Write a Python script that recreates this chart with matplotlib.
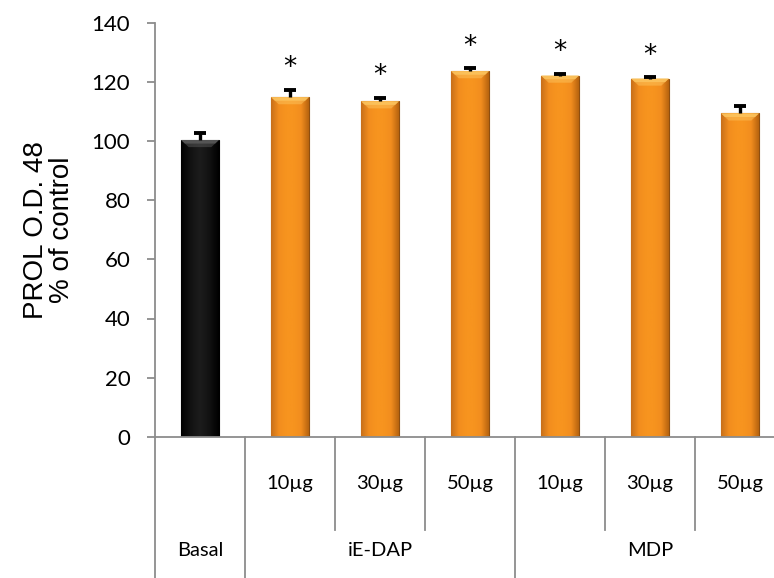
import numpy as np
import matplotlib
matplotlib.use('Agg')
import matplotlib.pyplot as plt
from matplotlib.colors import LinearSegmentedColormap
import matplotlib.transforms as mtransforms

# data
doses = ['', '10µg', '30µg', '50µg', '10µg', '30µg', '50µg']
groups = ['Basal', 'iE-DAP', 'MDP']
group_sizes = [1, 3, 3]
means = [100.4, 114.9, 113.5, 123.7, 122.2, 121.2, 109.4]
errs = [2.5, 2.5, 1.2, 1.0, 0.6, 0.4, 2.5]
signif = [False, True, True, True, True, True, False]

fig = plt.figure(figsize=(7.74, 5.78), dpi=100)
# axes runs a little past the right edge like the original crop
ax = fig.add_axes([155/774, (578-436.7)/578, 630/774, 413.7/578])

x = np.arange(len(means))
w = 0.42
orange = LinearSegmentedColormap.from_list('o', ['#C8701A', '#F28D1E', '#F7941F', '#F7941F', '#F28D1E', '#B8640F'])
blackmap = LinearSegmentedColormap.from_list('b', ['#000000', '#121212', '#1c1c1c', '#121212', '#000000'])
grad = np.linspace(0, 1, 64).reshape(1, -1)

bars = ax.bar(x, means, width=w, color=['#000000'] + ['#F7941F'] * 6,
              edgecolor=['#000000'] + ['#8E4E10'] * 6, linewidth=0.8, zorder=2)
for i, b in enumerate(bars):
    cm = blackmap if i == 0 else orange
    im = ax.imshow(grad, cmap=cm, aspect='auto', zorder=2.5,
                   extent=[b.get_x(), b.get_x() + b.get_width(), 0, b.get_height()])
    im.set_clip_path(b)
    # light bevel at the top of each bar
    top = b.get_height()
    bx0, bx1 = b.get_x(), b.get_x() + b.get_width()
    bev = '#FCC45E' if i else '#5a5a5a'
    for k, a in enumerate([0.85, 0.5]):
        d = 1.2 * (k + 1)
        ax.fill([bx0, bx1, bx1 - w * 0.2 * (k + 1) / 2, bx0 + w * 0.2 * (k + 1) / 2],
                [top, top, top - d, top - d], color=bev, lw=0, zorder=2.6, alpha=a)

tops = np.array(means) + np.array(errs)
ax.vlines(x, means, tops, color='black', lw=2.4, zorder=3)
ax.hlines(tops, x - 0.065, x + 0.065, color='black', lw=2.8, zorder=3)
for i in range(len(means)):
    if signif[i]:
        ax.annotate('*', (x[i], tops[i]), xytext=(0, 6), textcoords='offset points',
                    ha='center', va='bottom', fontsize=19, fontfamily='DejaVu Sans')

ax.set_xlim(-0.5, len(means) - 0.5)
ax.set_ylim(0, 140)
ax.set_yticks(range(0, 141, 20))
ax.set_xticks([])
for s in ['top', 'right']:
    ax.spines[s].set_visible(False)
for s in ['left', 'bottom']:
    ax.spines[s].set_color('#8C8C8C')
    ax.spines[s].set_linewidth(1.3)
ax.tick_params(axis='y', length=5.8, width=1.3, color='#8C8C8C', labelsize=16, pad=12)
for lab in ax.get_yticklabels():
    lab.set_fontfamily('Lato')

ax.set_ylabel('PROL O.D. 48\n% of control', fontsize=20, fontfamily='Liberation Sans',
              linespacing=1.0, labelpad=12)

# category axis drawn below
trans = mtransforms.blended_transform_factory(ax.transData, ax.transAxes)
kw = dict(color='#8C8C8C', lw=1.3, transform=trans, clip_on=False)
bottom = -0.345
short = -0.2255
edges = np.cumsum([0] + group_sizes) - 0.5
ax.plot([-0.5, -0.5], [0, bottom], **kw)
for e in edges[1:-1]:
    ax.plot([e, e], [0, bottom], **kw)
for i in range(1, len(means)):
    if i - 0.5 not in edges:
        ax.plot([i - 0.5, i - 0.5], [0, short], **kw)

for i, d in enumerate(doses):
    if d:
        ax.text(x[i], -0.113, d, transform=trans, ha='center', va='center',
                fontsize=14.5, fontfamily='Lato')
for g, a, bnd in zip(groups, edges[:-1], edges[1:]):
    ax.text((a + bnd) / 2, -0.274, g, transform=trans, ha='center', va='center',
            fontsize=14.5, fontfamily='Lato')

fig.savefig('out.png', dpi=100)
